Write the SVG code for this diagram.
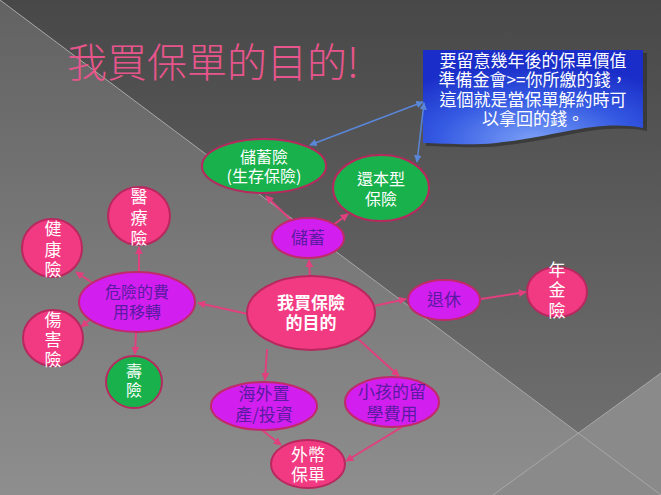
<svg xmlns="http://www.w3.org/2000/svg" width="661" height="495" viewBox="0 0 661 495">
<defs>
<linearGradient id="bgDark" x1="0" y1="0" x2="0" y2="1"><stop offset="0" stop-color="#484848"/><stop offset="1" stop-color="#747474"/></linearGradient>
<linearGradient id="bgLight" x1="0" y1="0" x2="0" y2="1"><stop offset="0" stop-color="#626262"/><stop offset="1" stop-color="#8e8e8e"/></linearGradient>
<radialGradient id="blueG" cx="0.5" cy="0.95" r="0.8"><stop offset="0" stop-color="#7a9ff7"/><stop offset="0.55" stop-color="#3459e2"/><stop offset="1" stop-color="#1a2dc8"/></radialGradient>
<marker id="pa" viewBox="0 0 10 10" refX="9" refY="5" markerWidth="4" markerHeight="4" orient="auto-start-reverse"><path d="M0,0 L10,5 L0,10 z" fill="#e0407e"/></marker>
<marker id="ba" viewBox="0 0 10 10" refX="9" refY="5" markerWidth="5" markerHeight="5" orient="auto-start-reverse"><path d="M0,0 L10,5 L0,10 z" fill="#5a86d8"/></marker>
<clipPath id="c1"><rect x="100" y="180" width="80" height="65.5"/></clipPath>
<clipPath id="c2"><rect x="15" y="215" width="80" height="62.5"/></clipPath>
<clipPath id="c3"><rect x="15" y="305" width="80" height="62.5"/></clipPath>
<clipPath id="c4"><rect x="520" y="255" width="80" height="65"/></clipPath>
</defs>
<style>
.t{font-family:"Noto Sans CJK TC","Noto Sans CJK SC",sans-serif;text-anchor:middle}
.w{fill:#ffffff;font-size:16px}
.p{fill:#5b1aa2;font-size:16px}
.pink{fill:#f23a82;stroke:#b8285e;stroke-width:2}
.mag{fill:#d21ff0;stroke:#c02a6a;stroke-width:2}
.grn{fill:#18b14c;stroke:#b8285e;stroke-width:2}
.con line{stroke:#e0407e;stroke-width:2;marker-end:url(#pa)}
.bl line{stroke:#5a86d8;stroke-width:1.5;marker-start:url(#ba);marker-end:url(#ba)}
</style>
<rect width="661" height="495" fill="url(#bgDark)"/>
<polygon points="0,0 661,495 0,495" fill="url(#bgLight)"/>
<polygon points="661,373 661,495 493,495" fill="#8a8a8a"/>
<line x1="0" y1="0" x2="661" y2="495" stroke="#a8a8a8" stroke-width="1"/>
<line x1="661" y1="373" x2="493" y2="495" stroke="#a8a8a8" stroke-width="1"/>

<text class="t" x="67" y="77" style="text-anchor:start;font-size:40px;font-weight:300;fill:#e8558c">我買保單的目的!</text>

<g id="callout">
<path d="M426,53 H647 V131 C600,122 560,140 500,146 C470,149 445,146 426,146 Z" fill="#222" opacity="0.5"/>
<path d="M423,50 H643 V128 C596,119 556,137 496,143 C466,146 441,143 423,143 Z" fill="url(#blueG)"/>
<text class="t w" x="533" y="67" style="font-size:17px">要留意幾年後的保單價值</text>
<text class="t w" x="533" y="86" style="font-size:17px">準備金會&gt;=你所繳的錢，</text>
<text class="t w" x="533" y="106" style="font-size:17px">這個就是當保單解約時可</text>
<text class="t w" x="533" y="125" style="font-size:17px">以拿回的錢。</text>
</g>

<g id="connectors">
<g class="bl">
<line x1="310" y1="145" x2="423" y2="102"/>
<line x1="417" y1="162" x2="424" y2="103"/>
</g>
<g class="con">
<line x1="310" y1="277" x2="309" y2="260"/>
<line x1="292" y1="221" x2="266" y2="196"/>
<line x1="332" y1="226" x2="348" y2="214"/>
<line x1="248" y1="314" x2="198" y2="303"/>
<line x1="139" y1="272" x2="139" y2="247"/>
<line x1="94" y1="284" x2="76" y2="272"/>
<line x1="92" y1="318" x2="81" y2="327"/>
<line x1="136" y1="332" x2="135" y2="354"/>
<line x1="374" y1="306" x2="406" y2="299"/>
<line x1="481" y1="299" x2="526" y2="292"/>
<line x1="267" y1="349" x2="265" y2="380"/>
<line x1="357" y1="338" x2="399" y2="376"/>
<line x1="262" y1="430" x2="281" y2="445"/>
<line x1="402" y1="427" x2="346" y2="461"/>
</g>
</g>

<g id="n-chuxuxian"><ellipse class="grn" cx="264" cy="166" rx="62" ry="27"/>
<text class="t w" x="264" y="163">儲蓄險</text><text class="t w" x="264" y="182">(生存保險)</text></g>

<g id="n-huanben"><ellipse class="grn" cx="381" cy="188" rx="48" ry="33"/>
<text class="t w" x="381" y="185">還本型</text><text class="t w" x="381" y="205">保險</text></g>

<g id="n-chuxu"><ellipse class="mag" cx="308" cy="238" rx="36" ry="20"/>
<text class="t p" x="308" y="244" style="font-size:17px">儲蓄</text></g>

<g id="n-center"><ellipse class="pink" cx="311" cy="313" rx="64" ry="37"/>
<text class="t w" x="311" y="309" style="font-size:17px;font-weight:bold">我買保險</text>
<text class="t w" x="311" y="329" style="font-size:17px;font-weight:bold">的目的</text></g>

<g id="n-risk"><ellipse class="mag" cx="137" cy="302" rx="58" ry="30"/>
<text class="t p" x="137" y="298">危險的費</text><text class="t p" x="137" y="318">用移轉</text></g>

<g id="n-medical"><ellipse class="pink" cx="139" cy="216" rx="31" ry="29"/>
<text class="t w" clip-path="url(#c1)" style="font-size:17px"><tspan x="139" y="203">醫</tspan><tspan x="139" y="224">療</tspan><tspan x="139" y="245">險</tspan></text></g>

<g id="n-health"><ellipse class="pink" cx="52" cy="248" rx="30" ry="29"/>
<text class="t w" clip-path="url(#c2)" style="font-size:17px"><tspan x="53" y="235">健</tspan><tspan x="53" y="256">康</tspan><tspan x="53" y="276">險</tspan></text></g>

<g id="n-injury"><ellipse class="pink" cx="53" cy="338" rx="30" ry="28"/>
<text class="t w" clip-path="url(#c3)" style="font-size:17px"><tspan x="53" y="326">傷</tspan><tspan x="53" y="346">害</tspan><tspan x="53" y="366">險</tspan></text></g>

<g id="n-life"><ellipse class="grn" cx="134" cy="382" rx="28" ry="26"/>
<text class="t w" x="134" y="377">壽</text><text class="t w" x="134" y="396">險</text></g>

<g id="n-retire"><ellipse class="mag" cx="444" cy="300" rx="36" ry="20"/>
<text class="t p" x="444" y="306" style="font-size:17px">退休</text></g>

<g id="n-annuity"><ellipse class="pink" cx="557" cy="292" rx="30" ry="25"/>
<text class="t w" clip-path="url(#c4)" style="font-size:17px"><tspan x="557" y="276">年</tspan><tspan x="557" y="296">金</tspan><tspan x="557" y="317">險</tspan></text></g>

<g id="n-overseas"><ellipse class="mag" cx="264" cy="406" rx="53" ry="24"/>
<text class="t p" x="264" y="400" style="font-size:17px">海外置</text><text class="t p" x="264" y="421" style="font-size:17px">產/投資</text></g>

<g id="n-child"><ellipse class="mag" cx="392" cy="402" rx="47" ry="25"/>
<text class="t p" x="392" y="398" style="font-size:17px">小孩的留</text><text class="t p" x="392" y="420" style="font-size:17px">學費用</text></g>

<g id="n-foreign"><ellipse class="pink" cx="308" cy="464" rx="37" ry="24"/>
<text class="t w" x="308" y="461" style="font-size:17px">外幣</text><text class="t w" x="308" y="481" style="font-size:17px">保單</text></g>
</svg>
